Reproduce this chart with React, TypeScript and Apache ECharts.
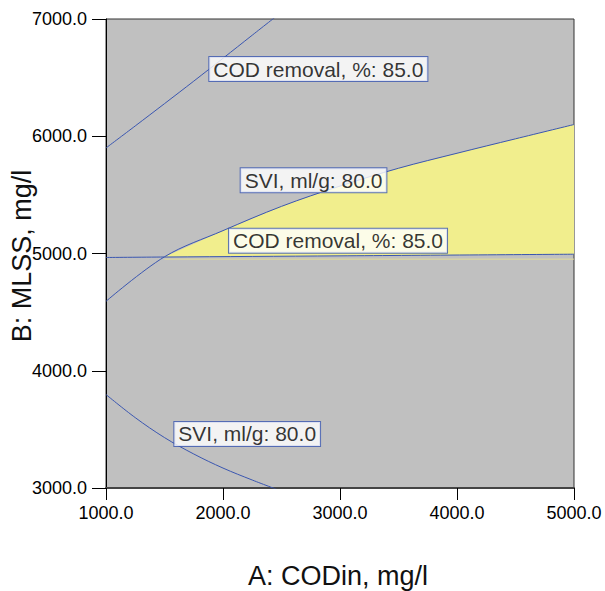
import React, { useEffect, useRef } from "react";
import * as echarts from "echarts";

// A: CODin (mg/l), B: MLSS (mg/l)
const xTicks = [1000, 2000, 3000, 4000, 5000];
const yTicks = [3000, 4000, 5000, 6000, 7000];

const codUpperA = [1000, 1250, 1500, 1750, 2000, 2250, 2500];
const codUpperB = [5900, 6088, 6278, 6470, 6665, 6862, 7058];

const codLowerA = [1000, 1500, 3000, 5000];
const codLowerB = [4966, 4970, 4980, 4994];

const sviUpperA = [1000, 1500, 2000, 2500, 3000, 3500, 4000, 4500, 5000];
const sviUpperB = [4592, 4972, 5195, 5402, 5575, 5727, 5855, 5978, 6100];

const sviLowerA = [1000, 1250, 1500, 1750, 2000, 2250, 2500];
const sviLowerB = [3797, 3600, 3430, 3290, 3170, 3068, 2973];

const edgeA = [1500, 5000];
const edgeB = [4952, 4952];

const labelTexts = [
  "COD removal, %: 85.0",
  "SVI, ml/g: 80.0",
  "COD removal, %: 85.0",
  "SVI, ml/g: 80.0",
];
const labelA = [1883, 2151, 2051, 1584];
const labelB = [6573, 5625, 5109, 3461];

const FONT = "'Liberation Sans', Arial, sans-serif";
const BLUE = "#3a56b0";
const YELLOW = "#f1ee8d";

const zip = (a: number[], b: number[]) => a.map((v, i) => [v, b[i]]);

export default function App() {
  const ref = useRef<HTMLDivElement>(null);
  useEffect(() => {
    if (!ref.current) return;
    const chart = echarts.init(ref.current, null, { renderer: "svg" });

    const fillTop = zip(sviUpperA, sviUpperB).filter((p) => p[0] >= 1500);
    const fillBottom = zip(codLowerA, codLowerB)
      .filter((p) => p[0] >= 1500)
      .reverse();
    const fillPts = fillTop.concat(fillBottom);

    const lineBase = {
      type: "line",
      smooth: 0.35,
      showSymbol: false,
      symbol: "none",
      lineStyle: { color: BLUE, width: 1 },
      z: 3,
      silent: true,
    };

    chart.setOption({
      animation: false,
      grid: {
        left: 106,
        right: 31,
        top: 19,
        bottom: 103,
        show: true,
        backgroundColor: "#c0c0c0",
        borderColor: "#333",
        borderWidth: 1,
      },
      xAxis: {
        type: "value",
        min: xTicks[0],
        max: xTicks[xTicks.length - 1],
        interval: 1000,
        splitLine: { show: false },
        axisLine: { show: true, onZero: false, lineStyle: { color: "#444", width: 2 } },
        axisTick: { show: true, length: 12, lineStyle: { color: "#000", width: 1 } },
        axisLabel: {
          margin: 16,
          color: "#000",
          fontSize: 18,
          fontFamily: FONT,
          formatter: (v: number) => v.toFixed(1),
        },
      },
      yAxis: {
        type: "value",
        min: yTicks[0],
        max: yTicks[yTicks.length - 1],
        interval: 1000,
        splitLine: { show: false },
        axisLine: { show: true, onZero: false, lineStyle: { color: "#000", width: 1 } },
        axisTick: { show: true, length: 14, lineStyle: { color: "#000", width: 1 } },
        axisLabel: {
          margin: 19,
          color: "#000",
          fontSize: 18,
          fontFamily: FONT,
          formatter: (v: number) => v.toFixed(1),
        },
      },
      graphic: [
        {
          type: "text",
          x: 338,
          y: 576,
          style: {
            text: "A: CODin, mg/l",
            fontSize: 27,
            fontFamily: FONT,
            fill: "#111",
            align: "center",
            verticalAlign: "middle",
          },
        },
        {
          type: "text",
          x: 22,
          y: 256,
          rotation: Math.PI / 2,
          style: {
            text: "B: MLSS, mg/l",
            fontSize: 27,
            fontFamily: FONT,
            fill: "#111",
            align: "center",
            verticalAlign: "middle",
          },
        },
      ],
      series: [
        {
          type: "custom",
          silent: true,
          z: 1,
          data: [0],
          renderItem: (_params: any, api: any) => ({
            type: "polygon",
            shape: { points: fillPts.map((p) => api.coord(p)) },
            style: { fill: YELLOW, stroke: "none" },
          }),
        },
        {
          type: "line",
          showSymbol: false,
          symbol: "none",
          silent: true,
          z: 2,
          lineStyle: { color: "#e2dd98", width: 1 },
          data: zip(edgeA, edgeB),
        },
        { ...lineBase, data: zip(codUpperA, codUpperB) },
        { ...lineBase, data: zip(codLowerA, codLowerB) },
        { ...lineBase, data: zip(sviUpperA, sviUpperB) },
        { ...lineBase, data: zip(sviLowerA, sviLowerB) },
        {
          type: "scatter",
          symbolSize: 0,
          silent: true,
          z: 10,
          data: labelTexts.map((t, i) => ({ value: [labelA[i], labelB[i]], name: t })),
          label: {
            show: true,
            position: "right",
            distance: 0,
            formatter: (p: any) => p.name,
            color: "#000",
            fontSize: 21,
            fontFamily: FONT,
            lineHeight: 21,
            backgroundColor: "#fff",
            borderColor: BLUE,
            borderWidth: 1,
            padding: [2, 4, 1, 4],
          },
        },
      ],
    });
    return () => chart.dispose();
  }, []);
  return (
    <div
      ref={ref}
      style={{ position: "fixed", left: 0, top: 0, width: 605, height: 591, background: "#fff" }}
    />
  );
}
